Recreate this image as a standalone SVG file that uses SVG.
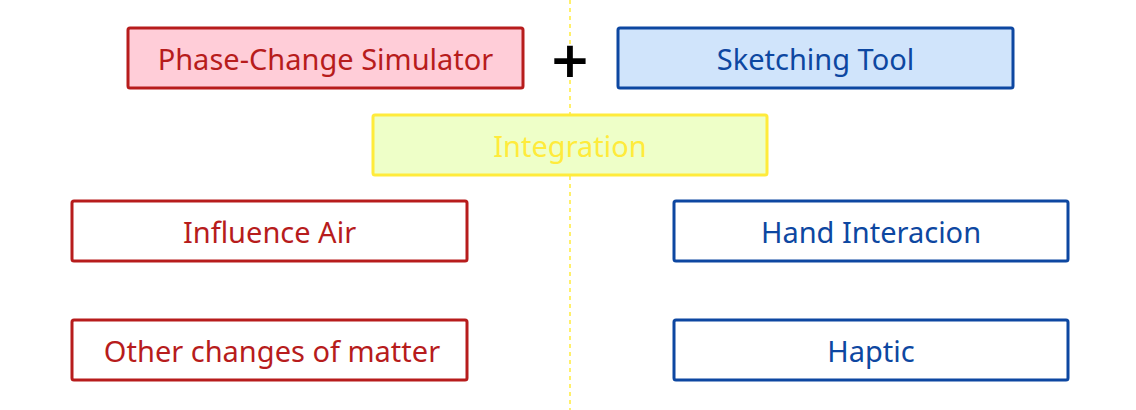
<svg xmlns="http://www.w3.org/2000/svg" width="1136" height="410" viewBox="0 0 1136 410">
<style>
.box{stroke-width:3}
.red{stroke:#b71c1c;}
.blue{stroke:#0d47a1;}
.t{font-family:"Noto Sans",sans-serif;font-size:29px;text-anchor:middle;dominant-baseline:central}
.tr{fill:#b71c1c}
.tb{fill:#0d47a1}
</style>
<rect width="1136" height="410" fill="#ffffff"/>
<g id="connectors">
<line x1="570" y1="0" x2="570" y2="410" stroke="#ffeb3b" stroke-width="1.5" stroke-dasharray="4,4"/>
</g>
<g id="phase">
<rect class="box red" x="128" y="28" width="395" height="60" rx="2" fill="#ffcdd8"/>
<text class="t tr" x="325.5" y="58">Phase-Change Simulator</text>
</g>
<g id="plus">
<text x="570" y="60" font-family="DejaVu Sans,sans-serif" font-size="50" font-weight="bold" text-anchor="middle" dominant-baseline="central" fill="#000">+</text>
</g>
<g id="sketch">
<rect class="box blue" x="618" y="28" width="395" height="60" rx="2" fill="#d0e4fb"/>
<text class="t tb" x="815.5" y="58">Sketching Tool</text>
</g>
<g id="integration">
<rect class="box" x="373" y="115" width="394" height="60" rx="2" fill="#eeffc8" stroke="#ffeb3b"/>
<text class="t" x="570" y="145" fill="#ffeb3b">Integration</text>
</g>
<g id="influence">
<rect class="box red" x="72" y="201" width="395" height="60" rx="2" fill="#ffffff"/>
<text class="t tr" x="269.5" y="231">Influence Air</text>
</g>
<g id="other">
<rect class="box red" x="72" y="320" width="395" height="60" rx="2" fill="#ffffff"/>
<text class="t tr" x="272" y="350">Other changes of matter</text>
</g>
<g id="hand">
<rect class="box blue" x="674" y="201" width="394" height="60" rx="2" fill="#ffffff"/>
<text class="t tb" x="871" y="231">Hand Interacion</text>
</g>
<g id="haptic">
<rect class="box blue" x="674" y="320" width="394" height="60" rx="2" fill="#ffffff"/>
<text class="t tb" x="871" y="350">Haptic</text>
</g>
</svg>
